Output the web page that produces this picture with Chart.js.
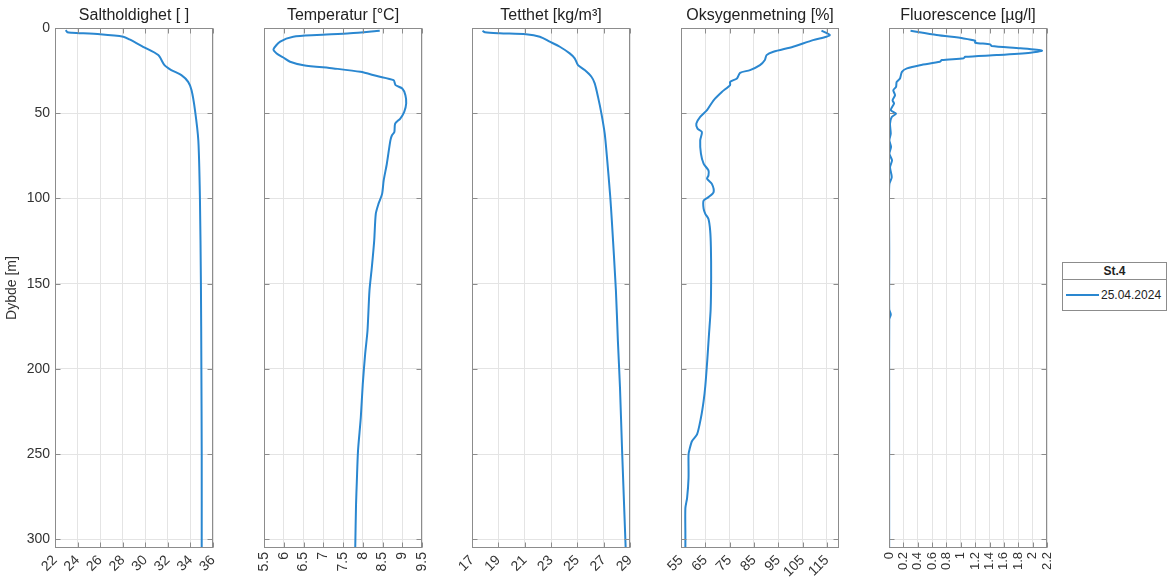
<!DOCTYPE html>
<html>
<head>
<meta charset="utf-8">
<script src="https://cdn.jsdelivr.net/npm/chart.js@4.4.1/dist/chart.umd.min.js"></script>
<style>
  body { margin: 0; background: #fff; width: 1167px; height: 579px; overflow: hidden; position: relative;
         font-family: 'Liberation Sans', Arial, sans-serif; }
  canvas { position: absolute; top: 0; }
  #legend { position: absolute; left: 1062px; top: 262px; width: 103px; border: 1px solid #8c8c8c; background: #fff; color: #222; }
  #legend .head { font-weight: bold; font-size: 12px; text-align: center; height: 16px; line-height: 16px; border-bottom: 1px solid #8c8c8c; }
  #legend .row { height: 30px; display: flex; align-items: center; font-size: 12px; }
  #legend .swatch { display: inline-block; width: 33px; height: 0; border-top: 2px solid #2a87d0; margin: 0 2px 0 3px; }
</style>
</head>
<body>
<canvas id="sal" width="245" height="579" style="left:0px"></canvas>
<canvas id="temp" width="245" height="579" style="left:209px"></canvas>
<canvas id="dens" width="245" height="579" style="left:417px"></canvas>
<canvas id="oxy" width="245" height="579" style="left:626px"></canvas>
<canvas id="flu" width="245" height="579" style="left:834px"></canvas>
<div id="legend">
  <div class="head">St.4</div>
  <div class="row"><span class="swatch"></span><span>25.04.2024</span></div>
</div>
<script>
/* ======================================================================
DATA
====================================================================== */
const depthTicks = [0, 50, 100, 150, 200, 250, 300];

// Saltholdighet
const salDepth = [1.2, 2.5, 2.8, 3.7, 5.1, 6.7, 11, 15.9, 21.8, 24.7, 27.6, 31.6, 36.5, 48, 66, 99, 150, 200, 250, 304.7];
const salValue = [22.95, 23.1, 23.5, 26.0, 28.05, 28.6, 29.8, 31.15, 31.7, 32.3, 33.2, 33.8, 34.1, 34.4, 34.7, 34.84, 34.93, 34.97, 35.0, 35.0];
const salTicks = [22, 24, 26, 28, 30, 32, 34, 36];

// Temperatur
const tempDepth = [1.6, 3.1, 4.1, 5.1, 8.0, 12.5, 14.9, 17.3, 19.8, 21.8, 23.7, 25.7, 28.2, 30.6, 33.5, 35.5, 39.4, 44.3, 49.2, 53.1,
  56.1, 61, 62.9, 65.9, 79.6, 89.4, 97.3, 103, 109, 124.7, 140.4, 154, 177.6, 191.4, 209, 228.6, 248, 266, 279.6, 304.7];
const tempValue = [8.43, 7.68, 6.84, 6.24, 5.91, 5.74, 5.82, 5.99, 6.16, 6.5, 7.26, 7.94, 8.36, 8.78, 8.83, 9.0, 9.08, 9.1, 9.05, 8.95,
  8.82, 8.8, 8.74, 8.7, 8.61, 8.53, 8.49, 8.4, 8.33, 8.29, 8.23, 8.17, 8.12, 8.06, 8.0, 7.95, 7.88, 7.85, 7.83, 7.81];
const tempTicks = [5.5, 6, 6.5, 7, 7.5, 8, 8.5, 9, 9.5];

// Tetthet
const densDepth = [1.6, 2.5, 3.1, 3.7, 5.1, 8, 11, 14.9, 17.8, 21.8, 24.7, 28.6, 32.5, 40.4, 50.2, 62, 75.7, 99, 113, 154, 183.5, 211, 248, 304.7];
const densValue = [17.8, 17.98, 19.1, 21.1, 22.15, 22.9, 23.67, 24.42, 24.8, 25.05, 25.56, 26.07, 26.32, 26.57, 26.83, 27.08, 27.25, 27.5, 27.62, 27.93, 28.08, 28.24, 28.4, 28.67];
const densTicks = [17, 19, 21, 23, 25, 27, 29];

// Oksygenmetning
const oxyDepth = [1.6, 4.1, 5.1, 7.1, 11, 13.9, 15.9, 18.8, 21.8, 24.7, 26.3, 29.6, 31.6, 33.5, 37.5, 42.4, 48.2, 52.2, 56.1, 59,
  61, 65.9, 73.7, 79.6, 83.5, 86.5, 88.4, 91.4, 96.3, 99.2, 101.2, 106, 109, 112, 118.8, 128.6, 146, 165, 180, 195,
  210, 218.8, 228.6, 238.4, 242.4, 247.2, 250.2, 264, 275.7, 281.6, 297.3, 304.7];
const oxyValue = [112.8, 116.2, 114.8, 109.3, 101.1, 93, 90.2, 89.5, 87.5, 83.4, 79.3, 78, 75.2, 75.2, 71.8, 68.4, 65.7, 62.9, 61.3, 61.8,
  63.6, 62.9, 63.2, 64.3, 66.3, 66.3, 65.7, 67.7, 68.4, 66.3, 64.3, 64.3, 65, 66.3, 67, 67.3, 67.4, 67.2, 66.5, 65.8,
  65, 64.3, 63.2, 61.6, 59.5, 58.5, 58.1, 58.1, 57.5, 56.8, 56.8, 56.8];
const oxyTicks = [55, 65, 75, 85, 95, 105, 115];

// Fluorescence
const fluDepth = [1.6, 4.1, 6.1, 7.5, 8.6, 9.6, 10.6, 11.9, 13.3, 14.5, 15.9, 16.9, 17.8, 18.8, 19.8, 21.8, 23.7, 25.7, 29.6, 31.6,
  34.5, 36.5, 39.4, 42.4, 44.3, 48.2, 50.2, 52.2, 56.1, 62, 65.9, 69.8, 73.7, 77.6, 81.6, 87.5, 91.4, 99, 130, 165, 168, 171, 220, 304.7];
const fluValue = [0.30, 0.665, 1.04, 1.20, 1.20, 1.41, 1.43, 1.83, 2.13, 1.97, 1.50, 1.06, 1.04, 0.735, 0.71, 0.43, 0.25, 0.18, 0.153, 0.107,
  0.098, 0.06, 0.084, 0.05, 0.07, 0.024, 0.098, 0.038, 0.014, 0.024, 0.005, 0.028, 0.005, 0.042, 0.014, 0.038, 0.005, 0.0, 0.003, 0.003, 0.025, 0.003, 0.002, 0.002];
const fluTicks = [0, 0.2, 0.4, 0.6, 0.8, 1, 1.2, 1.4, 1.6, 1.8, 2, 2.2];

/* ======================================================================
Styles
====================================================================== */
const lineColor = '#2a87d0';
const gridColor = '#e4e4e4';
const axisColor = '#8c8c8c';
const textColor = '#333';
const titleColor = '#222';

// MATLAB-like box with inward tick marks
const frame = {
  id: 'frame',
  afterDraw(chart) {
    const { ctx, chartArea: a, scales } = chart;
    const L = Math.round(a.left) + 0.5, R = Math.round(a.right) - 0.5;
    const T = Math.round(a.top) + 0.5, B = Math.round(a.bottom) - 0.5;
    ctx.save();
    ctx.strokeStyle = axisColor;
    ctx.lineWidth = 1;
    ctx.beginPath();
    scales.x.ticks.forEach(t => {
      const px = Math.round(scales.x.getPixelForValue(t.value)) + 0.5;
      ctx.moveTo(px, B); ctx.lineTo(px, B - 5);
      ctx.moveTo(px, T); ctx.lineTo(px, T + 5);
    });
    scales.y.ticks.forEach(t => {
      const py = Math.round(scales.y.getPixelForValue(t.value)) + 0.5;
      ctx.moveTo(L, py); ctx.lineTo(L + 5, py);
      ctx.moveTo(R, py); ctx.lineTo(R - 5, py);
    });
    ctx.stroke();
    ctx.strokeRect(L, T, R - L, B - T);
    ctx.restore();
  }
};

Chart.defaults.font.family = "'Liberation Sans', Arial, sans-serif";

function makePanel(p) {
  const points = p.depth.map((d, i) => ({ x: p.values[i], y: d }));
  return new Chart(document.getElementById(p.id), {
    type: 'scatter',
    data: {
      datasets: [{
        label: '25.04.2024',
        data: points,
        showLine: true,
        borderColor: lineColor,
        borderWidth: 2,
        pointRadius: 0,
        tension: 0.25,
        fill: false
      }]
    },
    options: {
      responsive: false,
      animation: false,
      // canvas is 245 wide: 55 for the depth axis, 158 plot, 32 spare on the right
      layout: { padding: { left: 0, right: 32, top: 0, bottom: 0 } },
      plugins: { legend: { display: false }, tooltip: { enabled: false } },
      scales: {
        x: {
          min: p.min, max: p.max,
          afterBuildTicks: s => { s.ticks = p.ticks.map(v => ({ value: v })); },
          afterFit: s => { s.height = 31; },
          grid: { color: gridColor, drawTicks: false },
          border: { display: false },
          ticks: {
            autoSkip: false, minRotation: p.rot, maxRotation: p.rot, padding: 4,
            color: textColor, font: { size: p.tickSize }, callback: v => String(v)
          }
        },
        top: {
          type: 'linear', position: 'top', min: p.min, max: p.max,
          grid: { display: false }, border: { display: false },
          ticks: { display: false },
          title: { display: true, text: p.title, color: titleColor, font: { size: 16 }, padding: { top: 6, bottom: 3 } },
          afterFit: s => { s.height = 28; }
        },
        y: {
          reverse: true, min: 0, max: 305,
          afterBuildTicks: s => { s.ticks = depthTicks.map(v => ({ value: v })); },
          afterFit: s => { s.width = 55; },
          grid: { color: gridColor, drawTicks: false },
          border: { display: false },
          ticks: { display: p.showDepth, padding: 5, color: textColor, font: { size: 14 } },
          title: { display: p.showDepth, text: 'Dybde [m]', color: textColor, font: { size: 14 }, padding: { top: 4, bottom: 0 } }
        }
      }
    },
    plugins: [frame]
  });
}

makePanel({ id: 'sal', title: 'Saltholdighet [ ]', depth: salDepth, values: salValue, ticks: salTicks, min: 22, max: 36, rot: 45, tickSize: 14, showDepth: true });
makePanel({ id: 'temp', title: 'Temperatur [°C]', depth: tempDepth, values: tempValue, ticks: tempTicks, min: 5.5, max: 9.5, rot: 90, tickSize: 14, showDepth: false });
makePanel({ id: 'dens', title: 'Tetthet [kg/m³]', depth: densDepth, values: densValue, ticks: densTicks, min: 17, max: 29, rot: 45, tickSize: 14, showDepth: false });
makePanel({ id: 'oxy', title: 'Oksygenmetning [%]', depth: oxyDepth, values: oxyValue, ticks: oxyTicks, min: 55, max: 120, rot: 45, tickSize: 14, showDepth: false });
makePanel({ id: 'flu', title: 'Fluorescence [µg/l]', depth: fluDepth, values: fluValue, ticks: fluTicks, min: 0, max: 2.2, rot: 90, tickSize: 13, showDepth: false });
</script>
</body>
</html>
